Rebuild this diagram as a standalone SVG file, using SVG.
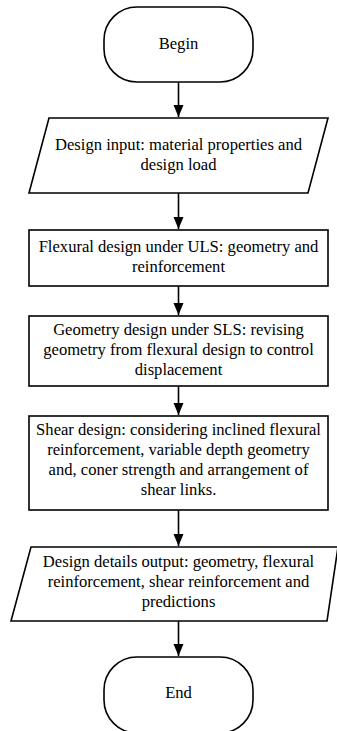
<svg xmlns="http://www.w3.org/2000/svg" width="337" height="731" viewBox="0 0 337 731">
<style>
.s{fill:#fff;stroke:#000;stroke-width:1.6}
.t{font-family:"Liberation Serif","Times New Roman",serif;font-size:16.6px;fill:#000;text-anchor:middle}
.c{stroke:#000;stroke-width:1.6;fill:none;marker-end:url(#a)}
</style>
<defs>
<marker id="a" markerWidth="13" markerHeight="11" refX="12" refY="5.5" orient="auto" markerUnits="userSpaceOnUse" viewBox="0 0 13 11">
<path d="M0,0.5 L12,5.5 L0,10.5 Z" fill="#000"/>
</marker>
</defs>
<rect width="337" height="731" fill="#fff"/>
<g id="connectors">
<line class="c" x1="178.5" y1="82" x2="178.5" y2="117"/>
<line class="c" x1="178.5" y1="193" x2="178.5" y2="229"/>
<line class="c" x1="178.5" y1="286" x2="178.5" y2="315"/>
<line class="c" x1="178.5" y1="386" x2="178.5" y2="415"/>
<line class="c" x1="178.5" y1="510" x2="178.5" y2="546"/>
<line class="c" x1="178.5" y1="621" x2="178.5" y2="656"/>
</g>
<g id="begin">
<rect class="s" x="104" y="7" width="149" height="75" rx="33" ry="33"/>
<text class="t" x="178.5" y="49">Begin</text>
</g>
<g id="input">
<polygon class="s" points="49,118 328,118 308,193 29,193"/>
<text class="t" x="178.5" y="150">Design input: material properties and</text>
<text class="t" x="178.5" y="170">design load</text>
</g>
<g id="flexural">
<rect class="s" x="29" y="230" width="299" height="56"/>
<text class="t" x="178.5" y="252">Flexural design under ULS: geometry and</text>
<text class="t" x="178.5" y="272">reinforcement</text>
</g>
<g id="geometry">
<rect class="s" x="29" y="316" width="299" height="70"/>
<text class="t" x="178.5" y="335">Geometry design under SLS: revising</text>
<text class="t" x="178.5" y="355">geometry from flexural design to control</text>
<text class="t" x="178.5" y="375">displacement</text>
</g>
<g id="shear">
<rect class="s" x="29" y="416" width="299" height="94"/>
<text class="t" x="178.5" y="435">Shear design: considering inclined flexural</text>
<text class="t" x="178.5" y="455">reinforcement, variable depth geometry</text>
<text class="t" x="178.5" y="475">and, coner strength and arrangement of</text>
<text class="t" x="178.5" y="495">shear links.</text>
</g>
<g id="output">
<polygon class="s" points="31,547 338,547 327,621 11,621"/>
<text class="t" x="178.5" y="567">Design details output: geometry, flexural</text>
<text class="t" x="178.5" y="587">reinforcement, shear reinforcement and</text>
<text class="t" x="178.5" y="607">predictions</text>
</g>
<g id="end">
<rect class="s" x="104" y="657" width="149" height="76" rx="33" ry="33"/>
<text class="t" x="178.5" y="698">End</text>
</g>
</svg>
